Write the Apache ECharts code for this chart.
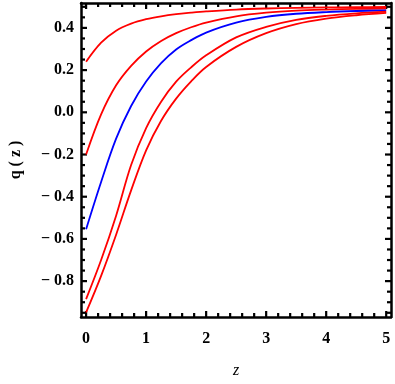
<!DOCTYPE html>
<html>
<head>
<meta charset="utf-8">
<script src="https://cdn.jsdelivr.net/npm/echarts@6/dist/echarts.min.js"></script>
<style>
  html,body{margin:0;padding:0;background:#fff;}
  #chart{width:395px;height:384px;}
</style>
</head>
<body>
<div id="chart"></div>
<script>
// sample points along z, shared by all curves
var zVals = [0, 0.25, 0.5, 0.75, 1, 1.25, 1.5, 1.75, 2, 2.5, 3, 3.5, 4, 4.5, 5];

// q(z) curves
var qRed1 = [0.24, 0.33, 0.387, 0.42, 0.441, 0.455, 0.465, 0.472, 0.478, 0.487, 0.492, 0.495, 0.497, 0.498, 0.499];
var qRed2 = [-0.2, -0.01, 0.128, 0.22, 0.288, 0.338, 0.375, 0.403, 0.425, 0.455, 0.472, 0.482, 0.487, 0.49, 0.492];
var qBlue = [-0.554, -0.33, -0.125, 0.03, 0.146, 0.233, 0.298, 0.342, 0.378, 0.425, 0.452, 0.467, 0.475, 0.48, 0.483];
var qRed4 = [-0.885, -0.7, -0.49, -0.25, -0.075, 0.05, 0.145, 0.213, 0.27, 0.355, 0.405, 0.438, 0.457, 0.469, 0.477];
var qRed5 = [-0.948, -0.775, -0.58, -0.37, -0.18, -0.04, 0.065, 0.147, 0.215, 0.31, 0.375, 0.418, 0.444, 0.46, 0.471];

// tick values
var xMajor = [0, 1, 2, 3, 4, 5];
var yMajor = [-0.8, -0.6, -0.4, -0.2, 0.0, 0.2, 0.4];

var xMin = -0.085, xMax = 5.08;
var yMin = -0.97, yMax = 0.518;

var xMinor = [], yMinor = [];
for (var i = 0; i <= 25; i++) {
    if (i % 5 != 0) xMinor.push(+(i * 0.2).toFixed(2));
}
for (var j = -19; j <= 10; j++) {
    if (j % 4 != 0) yMinor.push(+(j * 0.05).toFixed(2));
}

function pairs(ys) {
    return zVals.map(function (z, k) { return [z, ys[k]]; });
}

function curve(ys, color) {
    return {
        type: 'line', data: pairs(ys), smooth: 0.35,
        showSymbol: false, symbol: 'none',
        lineStyle: {color: color, width: 1.8}
    };
}

// frame ticks on all four sides, pointing inside, as small rect symbols
var tickItems = [];
function addX(vals, len) {
    vals.forEach(function (v) {
        tickItems.push({value: [v, yMin], symbolSize: [2.2, len], symbolOffset: [0, -len / 2]});
        tickItems.push({value: [v, yMax], symbolSize: [2.2, len], symbolOffset: [0, len / 2]});
    });
}
function addY(vals, len) {
    vals.forEach(function (v) {
        tickItems.push({value: [xMin, v], symbolSize: [len, 2.2], symbolOffset: [len / 2, 0]});
        tickItems.push({value: [xMax, v], symbolSize: [len, 2.2], symbolOffset: [-len / 2, 0]});
    });
}
addX(xMajor, 6);
addX(xMinor, 4);
addY(yMajor, 6);
addY(yMinor, 4);

var labelFont = {fontFamily: 'Liberation Serif', fontWeight: 'bold', fontSize: 16, color: '#000'};

var chart = echarts.init(document.getElementById('chart'));
chart.setOption({
    animation: false,
    backgroundColor: '#fff',
    grid: {left: 75, right: 4, top: 3, bottom: 66, containLabel: false},
    xAxis: [{
        type: 'value', min: xMin, max: xMax, position: 'bottom',
        splitLine: {show: false},
        axisLine: {show: true, onZero: false, lineStyle: {color: '#000', width: 2.5}},
        axisTick: {show: false},
        axisLabel: Object.assign({customValues: xMajor, margin: 14}, labelFont),
        name: 'z', nameLocation: 'middle', nameGap: 46,
        nameTextStyle: {fontFamily: 'Liberation Serif', fontStyle: 'italic', fontSize: 16, color: '#000'}
    }, {
        type: 'value', min: xMin, max: xMax, position: 'top',
        splitLine: {show: false}, axisTick: {show: false}, axisLabel: {show: false},
        axisLine: {show: true, onZero: false, lineStyle: {color: '#000', width: 2.5}}
    }],
    yAxis: [{
        type: 'value', min: yMin, max: yMax, position: 'left',
        splitLine: {show: false},
        axisLine: {show: true, onZero: false, lineStyle: {color: '#000', width: 2.5}},
        axisTick: {show: false},
        axisLabel: Object.assign({
            customValues: yMajor, margin: 7,
            formatter: function (v) {
                var s = Math.abs(v).toFixed(1);
                return v < -1e-9 ? '\u2212 ' + s : s;
            }
        }, labelFont),
        name: 'q ( z )', nameLocation: 'middle', nameGap: 57,
        nameTextStyle: labelFont
    }, {
        type: 'value', min: yMin, max: yMax, position: 'right',
        splitLine: {show: false}, axisTick: {show: false}, axisLabel: {show: false},
        axisLine: {show: true, onZero: false, lineStyle: {color: '#000', width: 2.5}}
    }],
    series: [
        curve(qRed1, '#ff0000'),
        curve(qRed2, '#ff0000'),
        curve(qBlue, '#0000ff'),
        curve(qRed4, '#ff0000'),
        curve(qRed5, '#ff0000'),
        {
            type: 'scatter', data: tickItems, symbol: 'rect', clip: false,
            itemStyle: {color: '#000', opacity: 1}, silent: true
        }
    ]
});
</script>
</body>
</html>
